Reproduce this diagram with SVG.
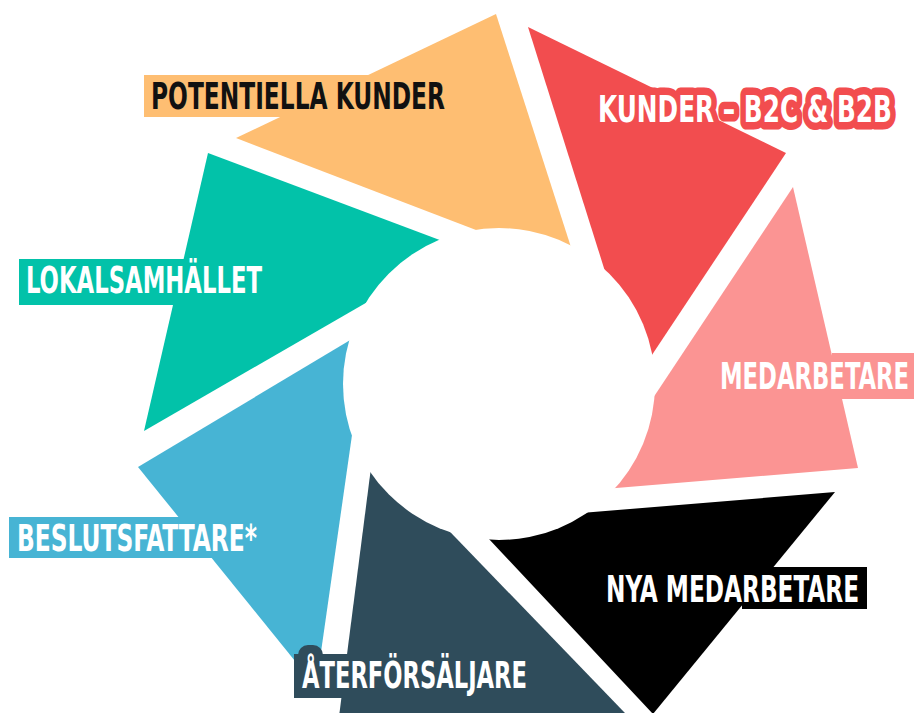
<svg xmlns="http://www.w3.org/2000/svg" width="914" height="713" viewBox="0 0 914 713">
  <style>
    .lbl { font-family: "Liberation Sans Narrow", "DejaVu Sans Condensed", "Roboto Condensed", "Liberation Sans", sans-serif; font-weight: bold; font-stretch: condensed; font-size: 37px; }
    .w { fill: #ffffff; }
    .k { fill: #111111; }
    .orange { fill: #FEBE72; }
    .red { fill: #F24D4F; }
    .pink { fill: #FB9493; }
    .black { fill: #000000; }
    .slate { fill: #2F4C5B; }
    .blue { fill: #47B4D4; }
    .teal { fill: #02C2A9; }
  </style>
  <rect width="914" height="713" fill="#ffffff"/>

  <!-- aperture blades -->
  <g id="blades">
    <polygon id="blade-potentiella" class="orange" points="496,14 236,138 578,269"/>
    <polygon id="blade-kunder" class="red" points="528,27 786,153 638,376"/>
    <polygon id="blade-medarbetare" class="pink" points="793,187 858,468 592,490"/>
    <polygon id="blade-nya" class="black" points="835,492 653,714 473,522"/>
    <polygon id="blade-aterforsaljare" class="slate" points="373,452 336,740 651,740"/>
    <polygon id="blade-beslutsfattare" class="blue" points="138,467 367,330 316,687"/>
    <polygon id="blade-lokalsamhallet" class="teal" points="208,153 461,248 144,431"/>
  </g>

  <!-- hollow centre -->
  <circle id="hub" cx="499" cy="384" r="156" fill="#ffffff"/>

  <!-- labels -->
  <g id="node-potentiella-kunder">
    <rect class="orange" x="144" y="75" width="236" height="42"/>
    <text class="lbl k" x="151" y="109" font-size="36" textLength="294" lengthAdjust="spacingAndGlyphs">POTENTIELLA KUNDER</text>
  </g>

  <g id="node-kunder">
    <text class="lbl" x="598" y="122" font-size="38" textLength="294" lengthAdjust="spacingAndGlyphs" fill="#F24D4F" stroke="#F24D4F" stroke-width="15" stroke-linejoin="round">KUNDER – B2C &amp; B2B</text>
    <text class="lbl w" x="598" y="122" font-size="38" textLength="294" lengthAdjust="spacingAndGlyphs">KUNDER – B2C &amp; B2B</text>
  </g>

  <g id="node-medarbetare">
    <rect class="pink" x="832" y="353" width="90" height="46"/>
    <text class="lbl w" x="720" y="389" font-size="36" textLength="189" lengthAdjust="spacingAndGlyphs">MEDARBETARE</text>
  </g>

  <g id="node-nya-medarbetare">
    <rect class="black" x="742" y="567" width="125" height="42"/>
    <text class="lbl w" x="606" y="602" font-size="37" textLength="253" lengthAdjust="spacingAndGlyphs">NYA MEDARBETARE</text>
  </g>

  <g id="node-aterforsaljare">
    <rect class="slate" x="294" y="654" width="70" height="44"/>
    <rect class="slate" x="298" y="645" width="25" height="22" rx="10"/>
    <text class="lbl w" x="302" y="688" font-size="37" textLength="225" lengthAdjust="spacingAndGlyphs">ÅTERFÖRSÄLJARE</text>
  </g>

  <g id="node-beslutsfattare">
    <rect class="blue" x="9" y="517" width="210" height="41"/>
    <text class="lbl w" x="17" y="551" font-size="37" textLength="240" lengthAdjust="spacingAndGlyphs">BESLUTSFATTARE*</text>
  </g>

  <g id="node-lokalsamhallet">
    <rect class="teal" x="19" y="259" width="170" height="46"/>
    <text class="lbl w" x="26" y="293" font-size="37" textLength="236" lengthAdjust="spacingAndGlyphs">LOKALSAMHÄLLET</text>
  </g>
</svg>
